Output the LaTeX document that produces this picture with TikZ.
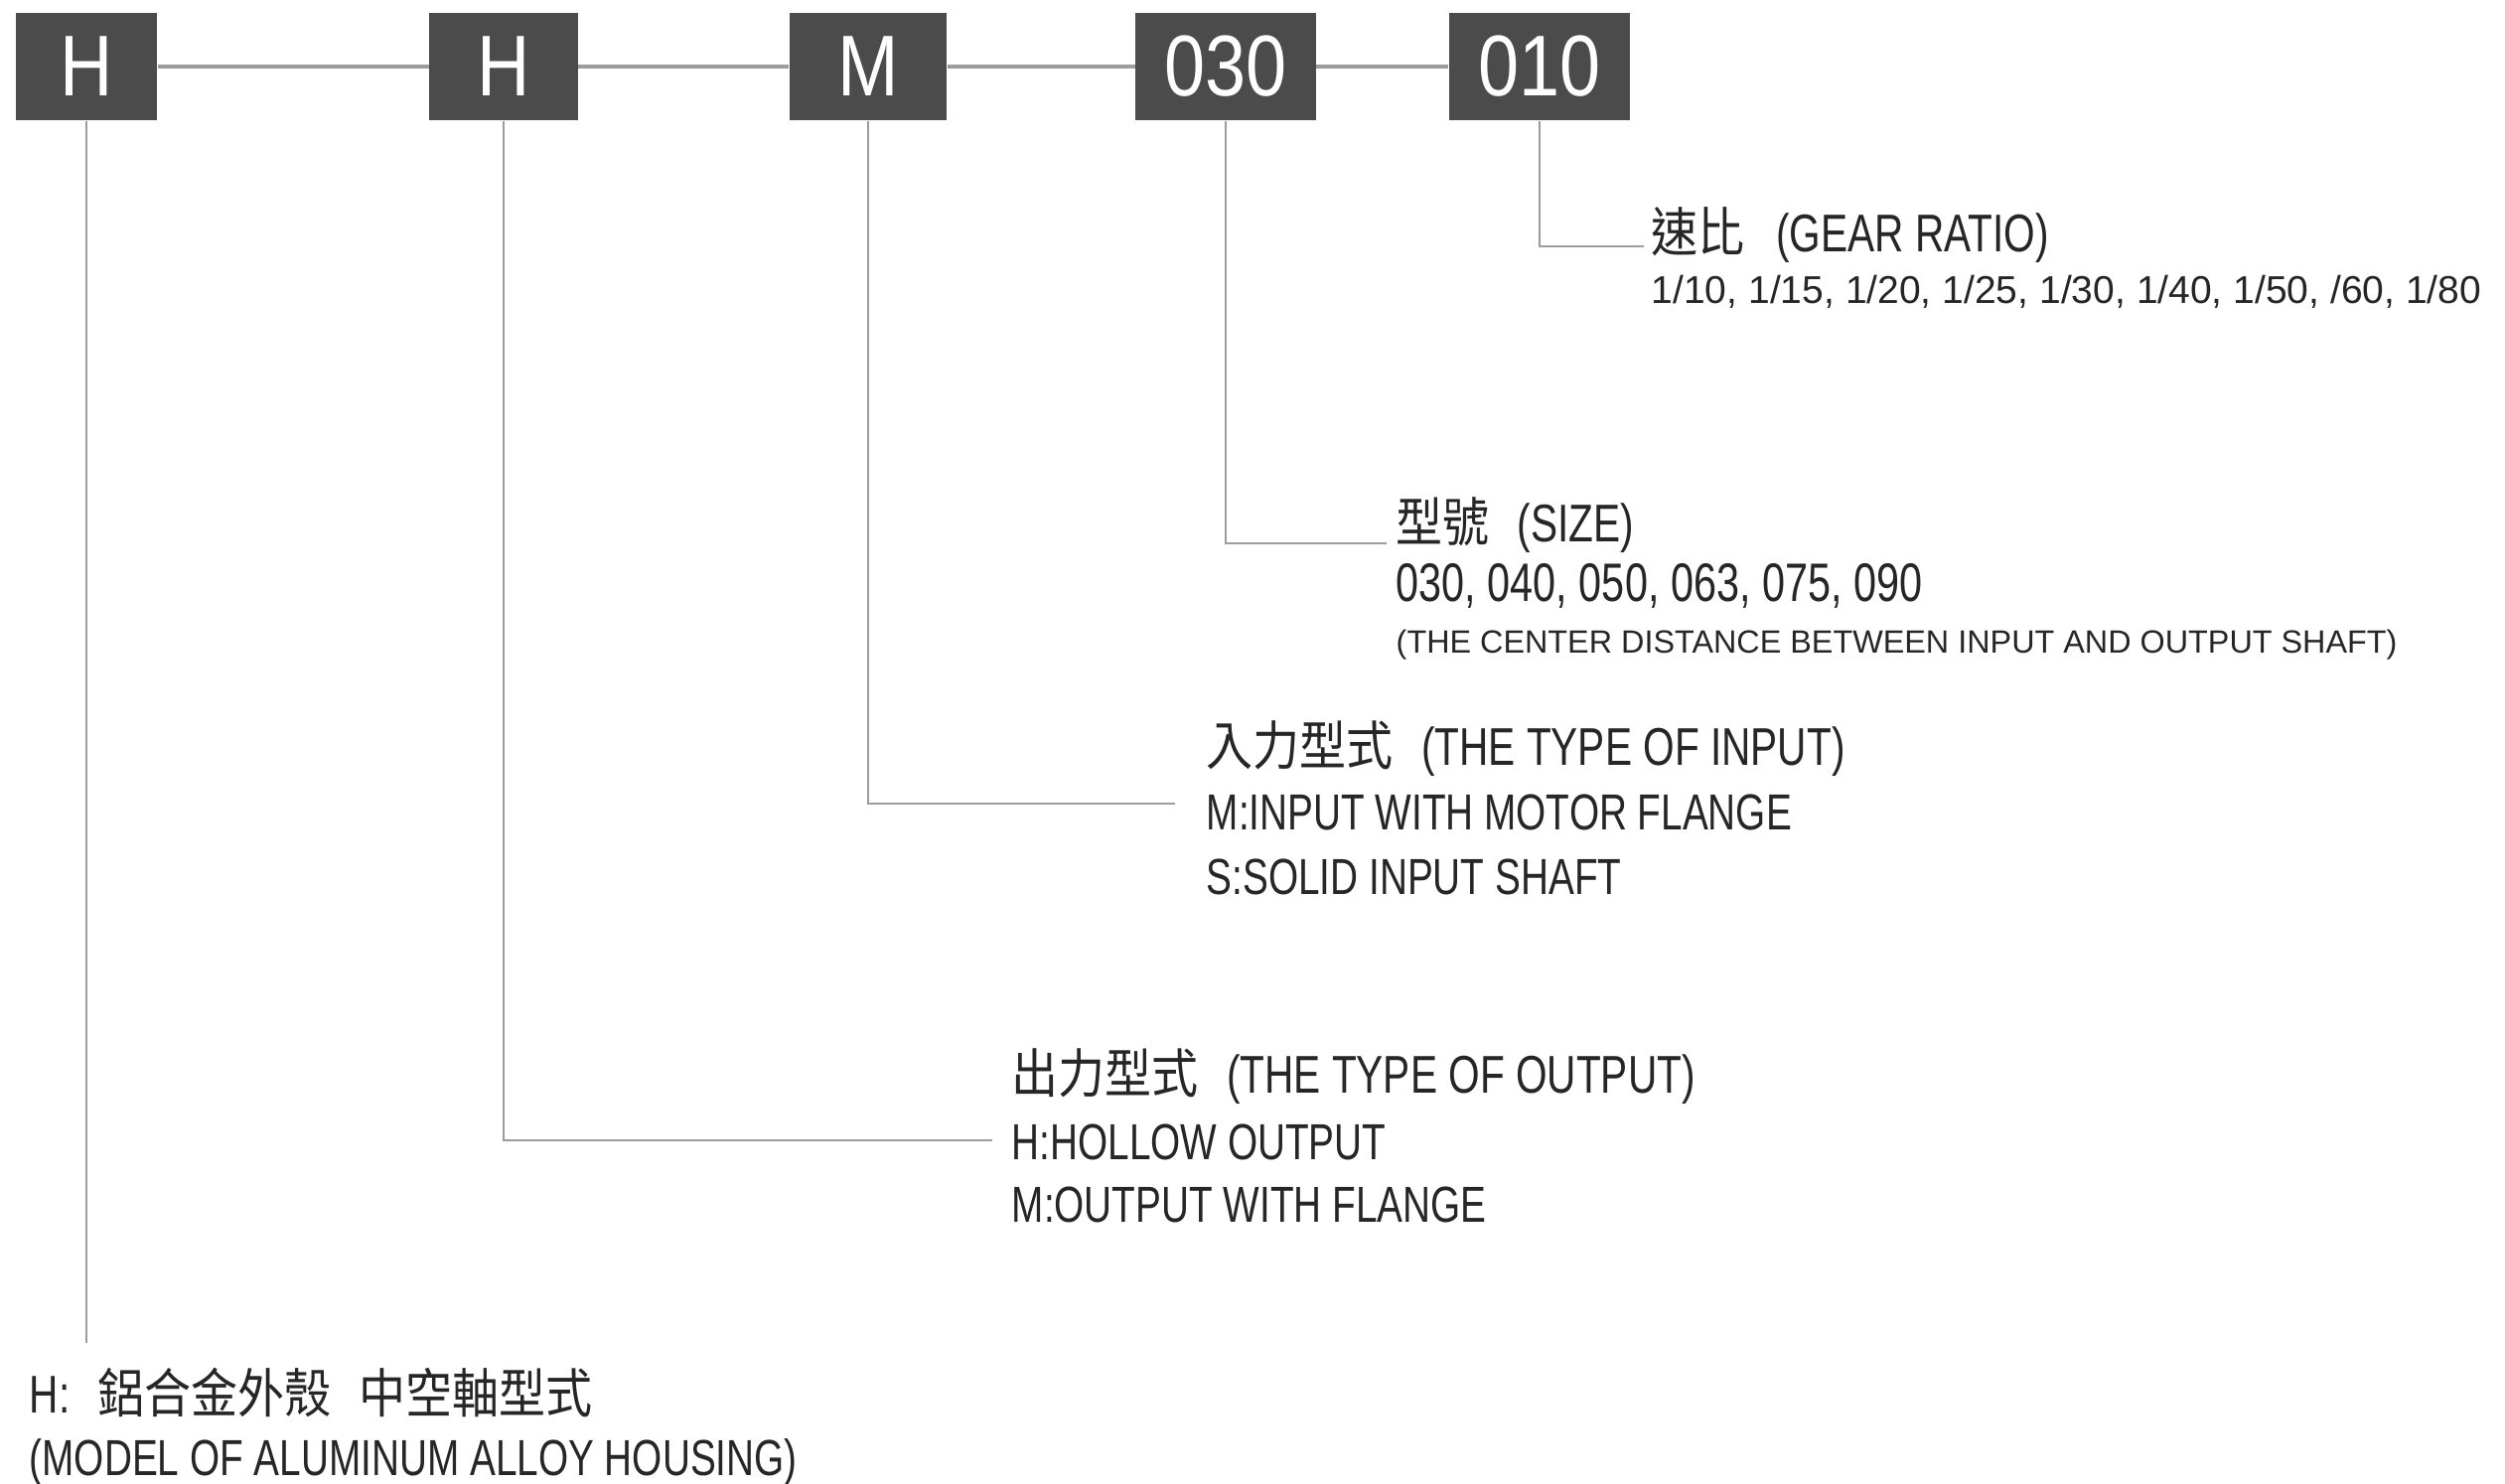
\documentclass[tikz,border=0pt]{standalone}
\usepackage{fontspec}
\usepackage{xcolor}
\setmainfont{Liberation Sans}[FakeStretch=0.76]
\newfontfamily\smallfont{Liberation Sans}
\newfontfamily\boxfont{Liberation Sans}[FakeStretch=0.85]
\newfontfamily\cjk{Noto Sans CJK TC}[FakeStretch=0.88]
\definecolor{boxgray}{HTML}{4B4B4B}
\definecolor{leadgray}{HTML}{9C9C9C}
\definecolor{ink}{HTML}{262626}

\begin{document}
\begin{tikzpicture}[x=0.01cm, y=-0.01cm,
	codebox/.style={fill=boxgray, text=white, inner sep=0pt, minimum height=30.7pt,
		font=\boxfont\fontsize{24.7}{26}\selectfont},
	lead/.style={draw=leadgray, line width=0.6pt},
	joint/.style={draw=leadgray, line width=0.9pt},
	head/.style={anchor=base west, inner sep=0pt, text=ink, font=\fontsize{15.2}{18}\selectfont},
	body/.style={anchor=base west, inner sep=0pt, text=ink, font=\fontsize{14.5}{17}\selectfont},
	note/.style={anchor=base west, inner sep=0pt, text=ink, font=\smallfont\fontsize{11.1}{13}\selectfont}]
			\useasboundingbox (0,0) rectangle (2522,1493);
			
			\node[codebox, minimum width=40.4pt] (b1) at (87,67) {H};
			\node[codebox, minimum width=42.4pt] (b2) at (507,67) {H};
			\node[codebox, minimum width=45.2pt] (b3) at (874,67) {M};
			\node[codebox, minimum width=51.5pt] (b4) at (1234,67) {030};
			\node[codebox, minimum width=51.8pt] (b5) at (1550,67) {010};
			
			\draw[joint] (b1) -- (b2) -- (b3) -- (b4) -- (b5);
			
			\node[head] (ratiohead) at (1662,253) {{\cjk 速比}\hspace{9pt}(GEAR RATIO)};
			\node[note] (ratiolist) at (1662,305) {1/10, 1/15, 1/20, 1/25, 1/30, 1/40, 1/50, /60, 1/80};
			
			\node[head] (sizehead) at (1405,545) {{\cjk 型號}\hspace{8pt}(SIZE)};
			\node[body, font=\fontsize{15.5}{18}\selectfont] (sizelist) at (1405,605) {030, 040, 050, 063, 075, 090};
			\node[note, font=\smallfont\fontsize{9.2}{11}\selectfont] (sizenote) at (1405,657) {(THE CENTER DISTANCE BETWEEN INPUT AND OUTPUT SHAFT)};
			
			\node[head] (inputhead) at (1214,770) {{\cjk 入力型式}\hspace{8pt}(THE TYPE OF INPUT)};
			\node[body] (inputm) at (1214,835) {M:INPUT WITH MOTOR FLANGE};
			\node[body] (inputs) at (1214,900) {S:SOLID INPUT SHAFT};
			
			\node[head] (outputhead) at (1018,1100) {{\cjk 出力型式}\hspace{8pt}(THE TYPE OF OUTPUT)};
			\node[body] (outputh) at (1018,1167) {H:HOLLOW OUTPUT};
			\node[body] (outputm) at (1018,1230) {M:OUTPUT WITH FLANGE};
			
			\node[head] (houshead) at (29,1422) {H:\hspace{8pt}{\cjk 鋁合金外殼}\hspace{8pt}{\cjk 中空軸型式}};
			\node[body] (housnote) at (29,1485) {(MODEL OF ALUMINUM ALLOY HOUSING)};
			
			%lead ends
			\coordinate (ratioend) at (1655,248);
			\coordinate (sizeend) at (1396,547);
			\coordinate (inputend) at (1183,809);
			\coordinate (outputend) at (999,1148);
			\coordinate (housend) at (87,1352);
			
			\draw[lead] (b5.south) |- (ratioend);
			\draw[lead] (b4.south) |- (sizeend);
			\draw[lead] (b3.south) |- (inputend);
			\draw[lead] (b2.south) |- (outputend);
			\draw[lead] (b1.south) -- (housend);
			\end{tikzpicture}
\end{document}
